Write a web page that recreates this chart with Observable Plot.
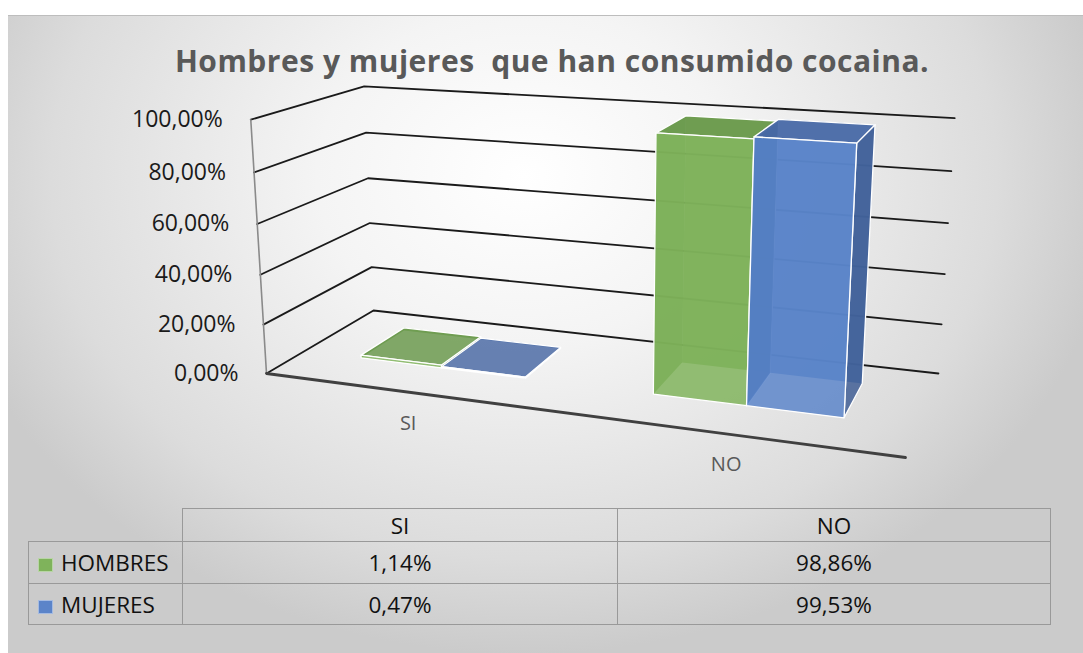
<!DOCTYPE html>
<html><head><meta charset="utf-8">
<script src="https://cdn.jsdelivr.net/npm/d3@7"></script>
<script src="https://cdn.jsdelivr.net/npm/@observablehq/plot@0.6"></script>
<style>
body{margin:0;background:#fff;width:1083px;height:653px;overflow:hidden;position:relative;font-family:"Open Sans",sans-serif;}
#bg{position:absolute;left:8px;top:15px;width:1075px;height:638px;background:radial-gradient(ellipse 55% 75% at 48% 25%, #ffffff 0%, #f4f4f4 35%, #dcdcdc 80%, #cbcbcb 100%);border-top:1px solid #bdbdbd;}
#title{position:absolute;left:0;width:1104px;top:40px;text-align:center;font-weight:700;font-size:30px;letter-spacing:0.5px;color:#595959;white-space:pre;line-height:normal;}
#chart{position:absolute;left:0;top:0;}
#tbl{position:absolute;left:28px;top:508px;border-collapse:collapse;font-size:22.5px;color:#111;table-layout:fixed;}
#tbl td{border:1px solid #999;text-align:center;vertical-align:middle;padding:0;white-space:nowrap;}
#tbl td.blank{border-top:none;border-left:none;}
#tbl td.lab{text-align:left;padding-left:9px;}
.sw{display:inline-block;width:13px;height:12px;margin-right:8px;vertical-align:-1px;border:1px solid rgba(255,255,255,0.45);}
</style></head>
<body>
<div id="bg"></div>
<div id="title"></div>
<div id="chart"></div>
<table id="tbl"></table>
<script>
// ---- data ----
const titulo = "Hombres y mujeres  que han consumido cocaina.";
const categorias = ["SI", "NO"];
const series = ["HOMBRES", "MUJERES"];
const hombres = [1.14, 98.86];
const mujeres = [0.47, 99.53];
const yTicks = [0, 20, 40, 60, 80, 100];
const yTickLabels = ["0,00%", "20,00%", "40,00%", "60,00%", "80,00%", "100,00%"];
const colores = {HOMBRES: {front:"#7fb35b", top:"#6a994c", right:"#5a873e", left:"#6a9d4a", back:"#74a853"},
                 MUJERES: {front:"#5b84c9", top:"#4b6aa4", right:"#3f5d94", left:"#2f5ea8", back:"#5180c3"}};
const valores = {HOMBRES: hombres, MUJERES: mujeres};

// ---- perspective camera (layout) ----
const C = {a:507.4,b:159.02,c:266,d:17.55,e:-19.76,f:373,g:-0.1454,h:0.13947,p:-27.03,q:-259.2,r:-0.0452};
function proj(X, Y, Z){
  const w = C.g*X + C.h*Z + 1 + C.r*Y;
  return [(C.a*X + C.b*Z + C.c + C.p*Y)/w, (C.d*X + C.e*Z + C.f + C.q*Y)/w];
}
const xCat = d3.scalePoint().domain(categorias).range([0,1]).padding(0.5);
const yVal = d3.scaleLinear().domain([0,100]).range([0,1]);
const barW = 0.145, z0 = 0.33, z1 = 0.76;

document.getElementById("title").textContent = titulo;

// gridlines: left wall + back wall
const grid = [];
yTicks.forEach(t => {
  const Y = yVal(t);
  [[0,Y,0],[0,Y,1],[1,Y,1]].forEach(([X,YY,Z]) => { const [x,y] = proj(X,YY,Z); grid.push({id:"g"+t, x, y}); });
});
const axisLine = [[0,0,0],[0,1,0]].map(([X,Y,Z]) => { const [x,y] = proj(X,Y,Z); return {x,y}; });
const floorLine = [[0,0,0],[1,0,0]].map(([X,Y,Z]) => { const [x,y] = proj(X,Y,Z); return {x,y}; });

// bars
const barMarks = [];
categorias.forEach((cat, ci) => {
  series.forEach((s, si) => {
    const v = valores[s][ci];
    const Y = yVal(v);
    const X0 = xCat(cat) + (si - 1) * barW, X1 = X0 + barW;
    const pal = colores[s];
    const faces = {
      left:  [[X0,0,z0],[X0,0,z1],[X0,Y,z1],[X0,Y,z0]],
      back:  [[X0,0,z1],[X1,0,z1],[X1,Y,z1],[X0,Y,z1]],
      right: [[X1,0,z0],[X1,0,z1],[X1,Y,z1],[X1,Y,z0]],
      top:   [[X0,Y,z0],[X1,Y,z0],[X1,Y,z1],[X0,Y,z1]],
      front: [[X0,0,z0],[X1,0,z0],[X1,Y,z0],[X0,Y,z0]]
    };
    const rows = (names) => names.flatMap(n => faces[n].map(([X,YY,Z]) => {
      const [x,y] = proj(X,YY,Z); return {face: cat+s+n, x, y, fill: pal[n]};
    }));
    barMarks.push(Plot.line(rows(["back","left"]), {x:"x", y:"y", z:"face", fill:"fill", stroke:null, curve:"linear-closed", fillOpacity:0.85}));
    barMarks.push(Plot.line(rows(["right","top","front"]), {x:"x", y:"y", z:"face", fill:"fill", stroke:"white", strokeWidth:1.3, curve:"linear-closed", fillOpacity:0.84}));
  });
});

const chart = Plot.plot({
  width: 1083, height: 500, margin: 0,
  x: {domain:[0,1083], range:[0,1083], axis:null},
  y: {domain:[0,500], range:[0,500], axis:null},
  color: {type:"identity"},
  style: {background:"transparent", overflow:"visible", fontFamily:"Open Sans"},
  marks: [
    Plot.line(grid, {x:"x", y:"y", z:"id", stroke:"#1a1a1a", strokeWidth:1.8}),
    Plot.line(axisLine, {x:"x", y:"y", stroke:"#8a8a8a", strokeWidth:1.6}),
    ...barMarks,
    Plot.line(floorLine, {x:"x", y:"y", stroke:"#404040", strokeWidth:2.8}),
    Plot.text(yTicks, {x: t => proj(0, yVal(t), 0)[0], y: t => proj(0, yVal(t), 0)[1], text: (t,i) => yTickLabels[i],
      textAnchor:"end", dx:-28, fontSize:23, fill:"#1a1a1a"}),
    Plot.text(categorias, {x: c => proj(xCat(c), 0, 0)[0], y: c => proj(xCat(c), 0, 0)[1], text: c => c,
      dy:31, fontSize:20, fill:"#595959"})
  ]
});
document.getElementById("chart").appendChild(chart);

// data table
const fmt = v => v.toFixed(2).replace(".", ",") + "%";
const tbl = document.getElementById("tbl");
const colW = [154, 435, 433];
let html = "<colgroup>" + colW.map(w => `<col style="width:${w}px">`).join("") + "</colgroup>";
html += `<tr style="height:33px"><td class="blank"></td>` + categorias.map(c => `<td>${c}</td>`).join("") + "</tr>";
series.forEach((s, i) => {
  html += `<tr style="height:${i===0?42:41}px"><td class="lab"><span class="sw" style="background:${colores[s].front}"></span>${s}</td>` +
    valores[s].map(v => `<td>${fmt(v)}</td>`).join("") + "</tr>";
});
tbl.innerHTML = html;
</script>
</body></html>
